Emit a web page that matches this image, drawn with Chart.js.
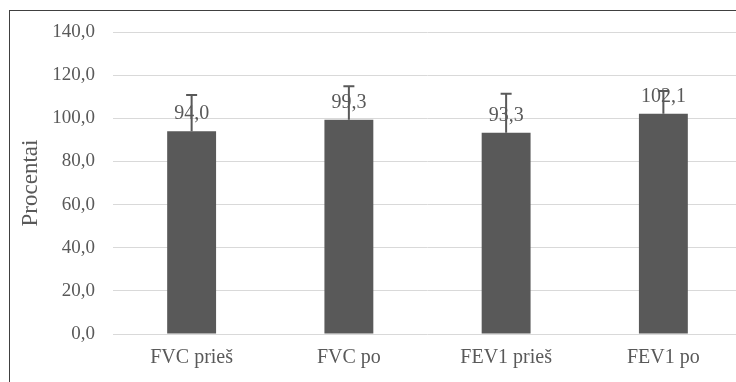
<!DOCTYPE html>
<html>
<head>
<meta charset="utf-8">
<title>Procentai</title>
<script src="https://cdn.jsdelivr.net/npm/chart.js"></script>
<style>
    html, body { margin: 0; padding: 0; background: #fff; overflow: hidden; width: 736px; height: 382px; }
    #frame { position: absolute; left: 9px; top: 10px; width: 760px; height: 400px; border: 1px solid #404040; box-sizing: border-box; }
    #chart { position: absolute; left: 0; top: 0; }
</style>
</head>
<body>
<div id="frame"><canvas id="chart" width="732" height="380"></canvas></div>
<script>
// --- Data ---
const categories = ['FVC prieš', 'FVC po', 'FEV1 prieš', 'FEV1 po'];
const values = [94.0, 99.3, 93.3, 102.1];
const errors = [16.8, 15.5, 18.1, 10.6];
const yTicks = [0, 20, 40, 60, 80, 100, 120, 140];

const barColor = '#595959';
const textColor = '#595959';
const fontFamily = '"Liberation Serif", "Times New Roman", serif';

const fmt = v => v.toFixed(1).replace('.', ',');

// value labels above bars, then error bars on top
const labelsAndErrors = {
    id: 'labelsAndErrors',
    afterDatasetsDraw(chart) {
        const ctx = chart.ctx;
        const meta = chart.getDatasetMeta(0);
        const y = chart.scales.y;
        ctx.save();
        ctx.font = '20px ' + fontFamily;
        ctx.fillStyle = textColor;
        ctx.textAlign = 'center';
        ctx.textBaseline = 'alphabetic';
        meta.data.forEach((bar, i) => {
            ctx.fillText(fmt(values[i]), bar.x, bar.y - 12);
        });
        ctx.strokeStyle = barColor;
        ctx.lineWidth = 2;
        meta.data.forEach((bar, i) => {
            const top = y.getPixelForValue(values[i] + errors[i]);
            ctx.beginPath();
            ctx.moveTo(bar.x, bar.y);
            ctx.lineTo(bar.x, top);
            ctx.moveTo(bar.x - 5.5, top);
            ctx.lineTo(bar.x + 5.5, top);
            ctx.stroke();
        });
        ctx.restore();
    }
};

new Chart(document.getElementById('chart'), {
    type: 'bar',
    data: {
        labels: categories,
        datasets: [{
            data: values,
            backgroundColor: barColor,
            borderWidth: 0,
            categoryPercentage: 1,
            barPercentage: 0.311
        }]
    },
    options: {
        responsive: false,
        animation: false,
        devicePixelRatio: 1,
        layout: { padding: { top: 21, left: 0, right: 0, bottom: 0 } },
        plugins: { legend: { display: false }, tooltip: { enabled: false } },
        scales: {
            x: {
                grid: { display: false },
                border: { display: false },
                ticks: { color: textColor, font: { family: fontFamily, size: 20 }, padding: 4 },
                afterFit(scale) { scale.height = 57; }
            },
            y: {
                min: 0,
                max: 140,
                afterBuildTicks(scale) { scale.ticks = yTicks.map(v => ({ value: v })); },
                grid: { color: '#d9d9d9', lineWidth: 1, drawTicks: false },
                border: { display: false },
                ticks: {
                    color: textColor,
                    font: { family: fontFamily, size: 19 },
                    padding: 18,
                    callback: v => fmt(v)
                },
                title: {
                    display: true,
                    text: 'Procentai',
                    color: textColor,
                    font: { family: fontFamily, size: 23 },
                    padding: { top: 7, bottom: 0 }
                },
                afterFit(scale) {
                    scale.width = 103;
                    scale.paddingTop = 0;
                    scale.paddingBottom = 0;
                }
            }
        }
    },
    plugins: [labelsAndErrors]
});
</script>
</body>
</html>
